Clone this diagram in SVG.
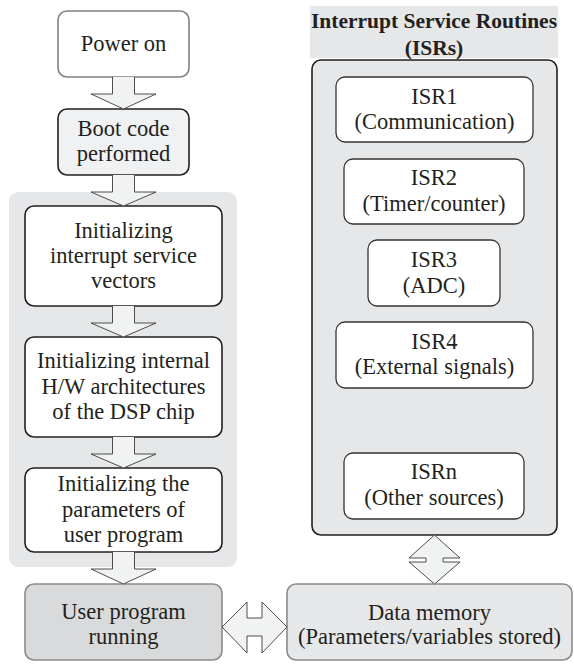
<svg xmlns="http://www.w3.org/2000/svg" width="574" height="664" viewBox="0 0 574 664">
<style>
text{font-family:'Liberation Serif','Times New Roman',serif;font-size:22.5px;fill:#231f20;text-anchor:middle}
.b{font-weight:bold;font-size:21.5px}
.arr{fill:#f1f2f2;stroke:#3a3a3a;stroke-width:0.9}
.dk{stroke:#231f20;stroke-width:1.6}
</style>
<rect x="0" y="0" width="574" height="664" fill="#ffffff"/>
<rect x="9" y="192" width="228" height="375" rx="9" fill="#e6e7e8"/>
<rect x="310" y="6" width="248" height="52" fill="#e6e7e8"/>
<g id="power-on">
<rect x="58" y="11" width="131" height="66" rx="9" fill="#ffffff" stroke="#808080" stroke-width="1.6"/>
<text x="123.5" y="51">Power on</text>
</g>
<g id="boot-code">
<rect x="58" y="109" width="131" height="66" rx="9" fill="#f0f1f2" class="dk"/>
<text x="123.5" y="136">Boot code</text>
<text x="123.5" y="161">performed</text>
</g>
<g id="init-vectors">
<rect x="25" y="206" width="197" height="100" rx="9" fill="#ffffff" class="dk"/>
<text x="123.5" y="238">Initializing</text>
<text x="123.5" y="263">interrupt service</text>
<text x="123.5" y="288">vectors</text>
</g>
<g id="init-hw">
<rect x="25" y="337" width="197" height="100" rx="9" fill="#ffffff" class="dk"/>
<text x="123.5" y="368">Initializing internal</text>
<text x="123.5" y="394">H/W architectures</text>
<text x="123.5" y="419">of the DSP chip</text>
</g>
<g id="init-params">
<rect x="25" y="468" width="197" height="84" rx="9" fill="#ffffff" class="dk"/>
<text x="123.5" y="491">Initializing the</text>
<text x="123.5" y="517">parameters of</text>
<text x="123.5" y="542">user program</text>
</g>
<g id="user-program">
<rect x="25" y="584" width="197" height="76" rx="9" fill="#d9dadb" stroke="#8a8a8a" stroke-width="1.6"/>
<text x="123.5" y="619">User program</text>
<text x="123.5" y="644">running</text>
</g>
<g id="data-memory">
<rect x="287" y="584" width="285" height="76" rx="9" fill="#e6e7e8" stroke="#8a8a8a" stroke-width="1.6"/>
<text x="429.5" y="620">Data memory</text>
<text x="429.5" y="644">(Parameters/variables stored)</text>
</g>
<g id="isrs">
<text class="b" x="434" y="28">Interrupt Service Routines</text>
<text class="b" x="434" y="55">(ISRs)</text>
<rect x="312" y="60" width="245" height="475" rx="9" fill="#e6e7e8" class="dk"/>
</g>
<g id="isr1">
<rect x="336" y="77" width="197" height="65" rx="9" fill="#ffffff" stroke="#333" stroke-width="1.3"/>
<text x="434.5" y="104">ISR1</text>
<text x="434.5" y="129">(Communication)</text>
</g>
<g id="isr2">
<rect x="344" y="159" width="180" height="65" rx="9" fill="#ffffff" stroke="#333" stroke-width="1.3"/>
<text x="434" y="185">ISR2</text>
<text x="434" y="211">(Timer/counter)</text>
</g>
<g id="isr3">
<rect x="368" y="240" width="132" height="66" rx="9" fill="#ffffff" stroke="#333" stroke-width="1.3"/>
<text x="434" y="267">ISR3</text>
<text x="434" y="293">(ADC)</text>
</g>
<g id="isr4">
<rect x="336" y="322" width="197" height="66" rx="9" fill="#ffffff" stroke="#333" stroke-width="1.3"/>
<text x="434.5" y="349">ISR4</text>
<text x="434.5" y="374">(External signals)</text>
</g>
<g id="isrn">
<rect x="344" y="453" width="180" height="66" rx="9" fill="#ffffff" stroke="#333" stroke-width="1.3"/>
<text x="434" y="479">ISRn</text>
<text x="434" y="505">(Other sources)</text>
</g>
<g id="connectors">
<path class="arr" d="M112.5,77 L112.5,94 L91,94 L123.5,109 L156,94 L134.5,94 L134.5,77"/>
<path class="arr" d="M112.5,175 L112.5,192 L91,192 L123.5,206 L156,192 L134.5,192 L134.5,175"/>
<path class="arr" d="M112.5,306 L112.5,323 L91,323 L123.5,337 L156,323 L134.5,323 L134.5,306"/>
<path class="arr" d="M112.5,437 L112.5,454 L91,454 L123.5,468 L156,454 L134.5,454 L134.5,437"/>
<path class="arr" d="M112.5,552 L112.5,569 L91,569 L123.5,584 L156,569 L134.5,569 L134.5,552"/>
<path class="arr" d="M222,627 L247,602 L247,618 L262,618 L262,602 L287,627 L262,653 L262,636 L247,636 L247,653 Z"/>
<path class="arr" d="M434.5,535 L460,558 L443,558 L443,562 L460,562 L434.5,584 L409,562 L426,562 L426,558 L409,558 Z"/>
</g>
</svg>
